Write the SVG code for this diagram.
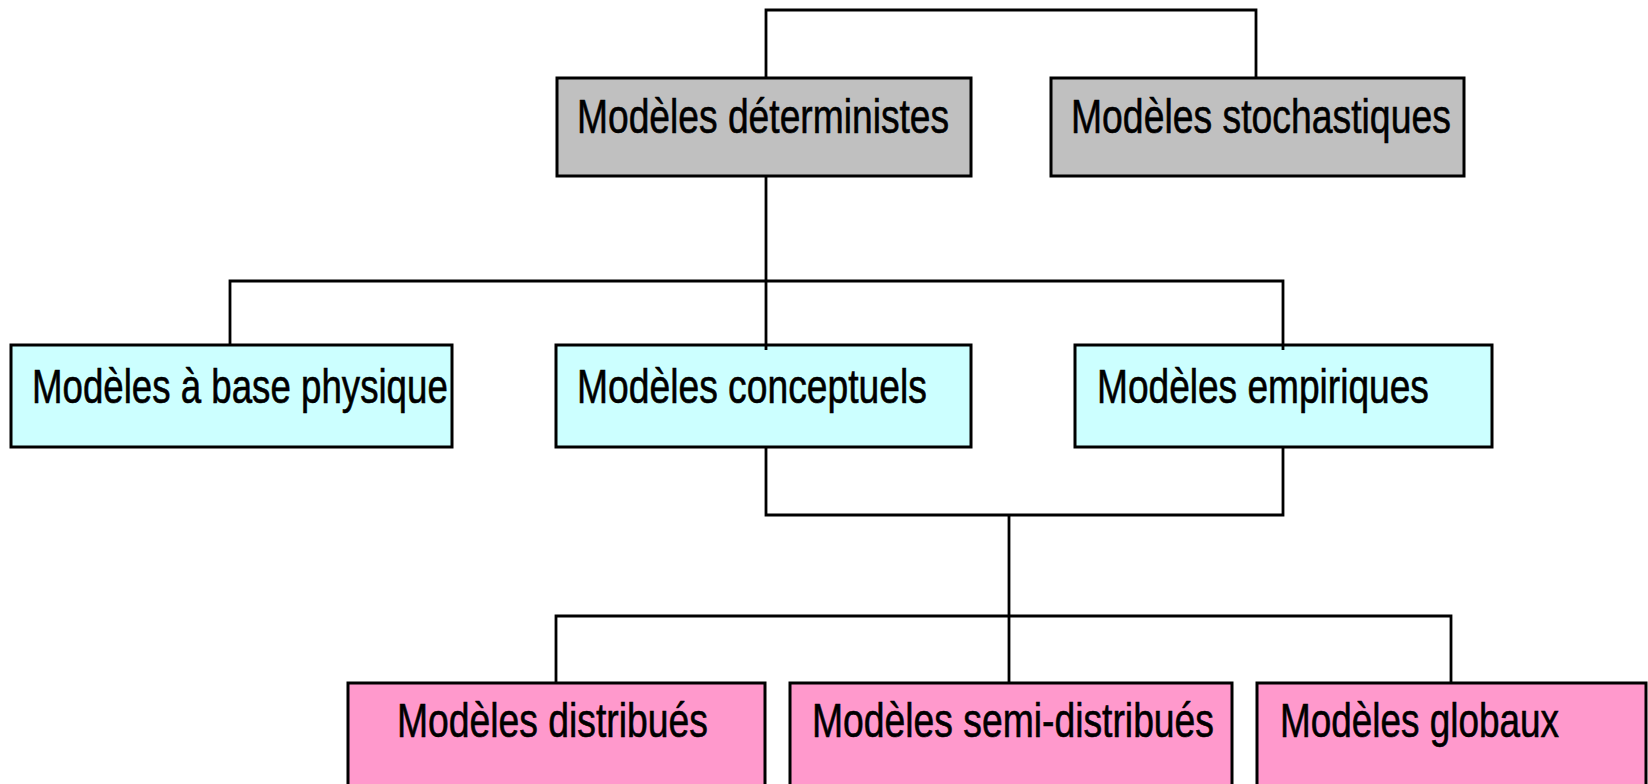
<svg xmlns="http://www.w3.org/2000/svg" width="1648" height="784" viewBox="0 0 1648 784">
  <style>
    .box { stroke: #000; stroke-width: 3; }
    .gray { fill: #c0c0c0; }
    .cyan { fill: #ccffff; }
    .pink { fill: #ff99cc; }
    .lbl { font-family: "Liberation Sans", Arial, sans-serif; font-size: 48px; fill: #000; stroke: #000; stroke-width: 0.6; }
    .conn { fill: none; stroke: #000; stroke-width: 2.8; }
  </style>
  <rect width="1648" height="784" fill="#fff"/>
  <g id="node-deterministes">
    <rect class="box gray" x="557" y="78" width="414" height="98"/>
    <text class="lbl" transform="translate(577,133) scale(0.775,1)">Modèles déterministes</text>
  </g>
  <g id="node-stochastiques">
    <rect class="box gray" x="1051" y="78" width="413" height="98"/>
    <text class="lbl" transform="translate(1071,133) scale(0.778,1)">Modèles stochastiques</text>
  </g>
  <g id="node-physique">
    <rect class="box cyan" x="11" y="345" width="441" height="102"/>
    <text class="lbl" transform="translate(32,403) scale(0.764,1)">Modèles à base physique</text>
  </g>
  <g id="node-conceptuels">
    <rect class="box cyan" x="556" y="345" width="415" height="102"/>
    <text class="lbl" transform="translate(577,403) scale(0.776,1)">Modèles conceptuels</text>
  </g>
  <g id="node-empiriques">
    <rect class="box cyan" x="1075" y="345" width="417" height="102"/>
    <text class="lbl" transform="translate(1097,403) scale(0.773,1)">Modèles empiriques</text>
  </g>
  <g id="node-distribues">
    <rect class="box pink" x="348" y="683" width="417" height="130"/>
    <text class="lbl" transform="translate(397,737) scale(0.777,1)">Modèles distribués</text>
  </g>
  <g id="node-semi-distribues">
    <rect class="box pink" x="790" y="683" width="442" height="130"/>
    <text class="lbl" transform="translate(812,737) scale(0.777,1)">Modèles semi-distribués</text>
  </g>
  <g id="node-globaux">
    <rect class="box pink" x="1257" y="683" width="389" height="130"/>
    <text class="lbl" transform="translate(1280,737) scale(0.769,1)">Modèles globaux</text>
  </g>
  <g id="connectors">
    <path class="conn" d="M766,78 V10 H1256 V78"/>
    <path class="conn" d="M766,176 V350"/>
    <path class="conn" d="M230,345 V281 H1283 V350"/>
    <path class="conn" d="M766,447 V515 H1283 V447"/>
    <path class="conn" d="M1009,515 V683"/>
    <path class="conn" d="M556,683 V616 H1451 V683"/>
  </g>
</svg>
